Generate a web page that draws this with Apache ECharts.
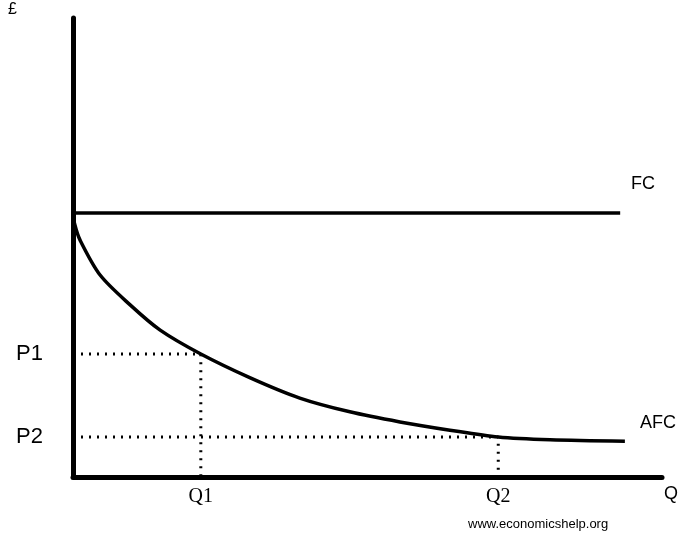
<!DOCTYPE html>
<html><head><meta charset="utf-8">
<script src="https://cdn.jsdelivr.net/npm/echarts@6/dist/echarts.min.js"></script>
<style>html,body{margin:0;padding:0;background:#fff}#c{width:695px;height:541px}</style>
</head><body><div id="c"></div>
<script>
const fcLine = [[0, 57.5], [92.9, 57.5]];
const afcCurve = [[0,57.5],[0.3,55],[1.2,51.6],[4.6,44.0],[9.7,37.5],[14.8,32.0],[21.7,26.8],[30.1,21.6],[38.5,17.2],[47.0,14.2],[55.5,12.0],[64.0,10.2],[72.2,8.7],[81.0,8.1],[93.7,7.8]];
const q1 = 21.7, p1 = 26.8, q2 = 72.2, p2 = 8.7;
const xTickValues = [q1, q2];
const xTickLabels = ['Q1', 'Q2'];
const yTickValues = [p1, p2];
const yTickLabels = ['P1', 'P2'];

const chart = echarts.init(document.getElementById('c'));
const dotted = {color:'#000', width:3, type:[2,6]};
chart.setOption({
  animation:false,
  grid:{left:73,right:33,top:18,bottom:64},
  xAxis:{type:'value',min:0,max:100,splitLine:{show:false},
    axisLine:{lineStyle:{color:'#000',width:5}},axisTick:{show:false},
    axisLabel:{customValues:xTickValues,formatter:v=>xTickLabels[xTickValues.indexOf(v)],
      fontFamily:'Liberation Serif',fontSize:20,color:'#000',margin:10}},
  yAxis:{type:'value',min:0,max:100,splitLine:{show:false},
    axisLine:{show:true,lineStyle:{color:'#000',width:5}},axisTick:{show:false},
    axisLabel:{customValues:yTickValues,formatter:v=>yTickLabels[yTickValues.indexOf(v)],
      fontFamily:'Liberation Sans',fontSize:22,color:'#000',margin:30}},
  series:[
    {type:'line',data:fcLine,symbol:'none',lineStyle:{color:'#000',width:3.5}},
    {type:'line',data:afcCurve,symbol:'none',smooth:0.3,lineStyle:{color:'#000',width:3.5}},
    {type:'line',data:[[0,p1],[q1,p1],[q1,0]],symbol:'none',lineStyle:dotted},
    {type:'line',data:[[0,p2],[q2,p2],[q2,0]],symbol:'none',lineStyle:dotted}
  ],
  graphic:[
    {type:'text',left:8,top:2,style:{text:'£',fontFamily:'Liberation Sans',fontSize:16,fill:'#000'}},
    {type:'text',left:631,top:175,style:{text:'FC',fontFamily:'Liberation Sans',fontSize:18,fill:'#000'}},
    {type:'text',left:640,top:414,style:{text:'AFC',fontFamily:'Liberation Sans',fontSize:18,fill:'#000'}},
    {type:'text',left:664,top:485,style:{text:'Q',fontFamily:'Liberation Sans',fontSize:18,fill:'#000'}},
    {type:'text',left:468,top:518,style:{text:'www.economicshelp.org',fontFamily:'Liberation Sans',fontSize:13,fill:'#000'}}
  ]
});
</script></body></html>
